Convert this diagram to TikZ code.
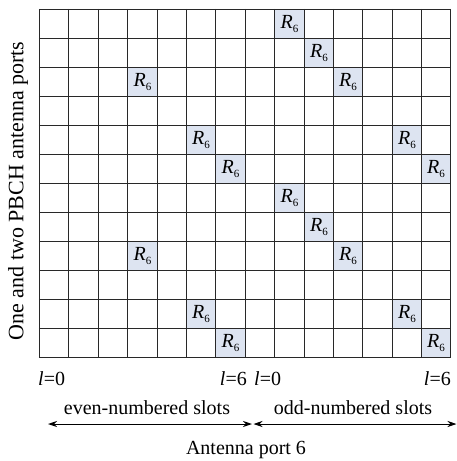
\documentclass[tikz,border=0pt]{standalone}
\usepackage{fontspec}
\setmainfont{Liberation Serif}
\usetikzlibrary{arrows.meta}
\definecolor{cellblue}{RGB}{221,228,241}
\definecolor{gridline}{RGB}{40,40,40}
\newcommand{\Rsix}{\textit{R}\raisebox{-4.5pt}{\fontsize{11}{11}\selectfont 6}}
\begin{document}
\begin{tikzpicture}[x=1pt,y=-1pt,
  rcell/.style={fill=cellblue,draw=none,inner sep=0pt,font=\fontsize{20}{20}\selectfont},
  gline/.style={draw=gridline,line width=1.4pt},
  lab/.style={inner sep=0pt,font=\fontsize{20}{20}\selectfont},
  arr/.style={line width=1pt,{Stealth[length=9pt,width=6pt]}-{Stealth[length=9pt,width=6pt]}}]
\useasboundingbox (0,0) rectangle (457,461);
\def\cw{29.39}
\def\rh{29.04}
\foreach \c/\r in {8/0,9/1,3/2,10/2,5/4,12/4,6/5,13/5,8/6,9/7,3/8,10/8,5/10,12/10,6/11,13/11}{
  \pgfmathsetmacro\xa{round(39+\c*\cw)+0.5}
  \pgfmathsetmacro\xb{round(39+(\c+1)*\cw)+0.5}
  \pgfmathsetmacro\ya{round(9+\r*\rh)+0.5}
  \pgfmathsetmacro\yb{round(9+(\r+1)*\rh)+0.5}
  \node[rcell,minimum width={(\xb-\xa)*1pt},minimum height={(\yb-\ya)*1pt}] (r\c-\r) at ({(\xa+\xb)/2},{(\ya+\yb)/2}) {\Rsix};
}
\foreach \i in {0,...,14}{
  \pgfmathsetmacro\xx{round(39+\i*\cw)+0.5}
  \draw[gline] (\xx,8.8) -- (\xx,357.2);
}
\foreach \j in {0,...,12}{
  \pgfmathsetmacro\yy{round(9+\j*\rh)+0.5}
  \draw[gline] (38.8,\yy) -- (451.2,\yy);
}
\node[lab,anchor=west] (l0a) at (38,379) {\textit{l}=0};
\node[lab,anchor=east] (l6a) at (247,379) {\textit{l}=6};
\node[lab,anchor=west] (l0b) at (254,379) {\textit{l}=0};
\node[lab,anchor=east] (l6b) at (451,379) {\textit{l}=6};
\node[lab] (even) at (147,408) {even-numbered slots};
\node[lab] (odd) at (353,408) {odd-numbered slots};
\coordinate (a1) at (48,424);
\coordinate (a2) at (252,424);
\coordinate (a3) at (253.5,424);
\coordinate (a4) at (456.5,424);
\draw[arr] (a1) -- (a2);
\draw[arr] (a3) -- (a4);
\node[lab] (port) at (246,450) {Antenna port 6};
\node[lab,rotate=90,font=\fontsize{22}{22}\selectfont] (ylab) at (18,191) {One and two PBCH antenna ports};
\end{tikzpicture}
\end{document}
